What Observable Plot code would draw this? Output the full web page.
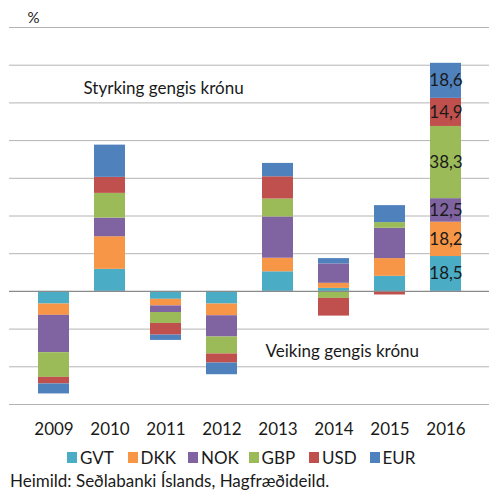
<!DOCTYPE html>
<html><head><meta charset="utf-8">
<script src="https://cdn.jsdelivr.net/npm/d3@7"></script>
<script src="https://cdn.jsdelivr.net/npm/@observablehq/plot@0.6"></script>
<style>
body{margin:0;background:#fff;font-family:Lato,"Open Sans",sans-serif;color:#1a1a1a;overflow:hidden;}
#chart{width:490px;}
.legend{display:flex;padding-left:67px;height:22px;align-items:center;font-size:17px;margin-top:4px;}
.legend .item{width:60.5px;display:flex;align-items:center;flex:none;}
.legend .sw{width:10px;height:11px;margin-right:3px;flex:none;}
.caption{font-size:17px;line-height:20px;padding-left:10px;margin-top:3px;white-space:nowrap;}
</style></head><body>
<div id="chart"></div>
<script>
const years = ["2009","2010","2011","2012","2013","2014","2015","2016"];
const currencies = ["GVT","DKK","NOK","GBP","USD","EUR"];
const colors = ["#4BACC6","#F79646","#8064A2","#9BBB59","#C0504D","#4F81BD"];
const GVT = [-6.7, 11.7, -4.2, -6.7, 10.4, 1.6, 8.0, 18.5];
const DKK = [-6.0, 17.3, -3.5, -6.2, 7.2, 2.7, 9.4, 18.2];
const NOK = [-19.8, 9.9, -3.5, -11.3, 21.9, 10.3, 16.1, 12.5];
const GBP = [-13.1, 13.1, -5.8, -9.0, 9.5, -3.7, 3.0, 38.3];
const USD = [-3.5, 8.5, -6.2, -4.8, 11.8, -9.4, -1.9, 14.9];
const EUR = [-5.3, 17.1, -2.8, -6.2, 7.1, 2.8, 9.0, 18.6];
const gridTicks = [-60,-40,-20,20,40,60,80,100,120,140];
const labelledYear = "2016";
const unitLabel = "%";
const upText = "Styrking gengis krónu";
const downText = "Veiking gengis krónu";
const source = "Heimild: Seðlabanki Íslands, Hagfræðideild.";

const seriesValues = [GVT, DKK, NOK, GBP, USD, EUR];
const data = [];
currencies.forEach((c, i) => years.forEach((y, j) => data.push({year: y, currency: c, value: seriesValues[i][j]})));
const fmt = v => v.toFixed(1).replace(".", ",");

const plot = Plot.plot({
  width: 490,
  height: 442,
  marginTop: 27,
  marginBottom: 38,
  marginLeft: 9,
  marginRight: 1,
  style: {fontFamily: "Lato, 'Open Sans', sans-serif", fontSize: "17px", color: "#1a1a1a", background: "#fff"},
  x: {domain: years, padding: 0.45, label: null, tickSize: 0, tickPadding: 18},
  y: {domain: [-60, 140], axis: null},
  color: {domain: currencies, range: colors},
  marks: [
    Plot.ruleY(gridTicks, {stroke: "#b4b4b4", strokeWidth: 1}),
    Plot.barY(data, Plot.stackY({x: "year", y: "value", z: "currency", fill: "currency", order: currencies})),
    Plot.ruleY([0], {stroke: "#8a8a8a", strokeWidth: 1.3}),
    Plot.text(data, Plot.stackY({x: "year", y: "value", z: "currency", order: currencies,
      filter: d => d.year === labelledYear, text: d => fmt(d.value), fill: "#1a1a1a", fontSize: 17})),
    Plot.text([upText], {frameAnchor: "top-left", textAnchor: "start", lineAnchor: "middle", dx: 74, dy: 61, fontSize: 17, fill: "#1a1a1a"}),
    Plot.text([downText], {frameAnchor: "top-left", textAnchor: "start", lineAnchor: "middle", dx: 256, dy: 324, fontSize: 17, fill: "#1a1a1a"}),
    Plot.text([unitLabel], {frameAnchor: "top-left", textAnchor: "start", lineAnchor: "middle", dx: 18, dy: -9, fontSize: 15, fill: "#1a1a1a"})
  ]
});
const chart = document.getElementById("chart");
chart.appendChild(plot);

const legend = document.createElement("div");
legend.className = "legend";
currencies.forEach((c, i) => {
  const it = document.createElement("div"); it.className = "item";
  const sw = document.createElement("span"); sw.className = "sw"; sw.style.background = colors[i];
  const t = document.createElement("span"); t.textContent = c;
  it.appendChild(sw); it.appendChild(t); legend.appendChild(it);
});
chart.appendChild(legend);
const cap = document.createElement("div");
cap.className = "caption"; cap.textContent = source;
chart.appendChild(cap);
</script>
</body></html>
